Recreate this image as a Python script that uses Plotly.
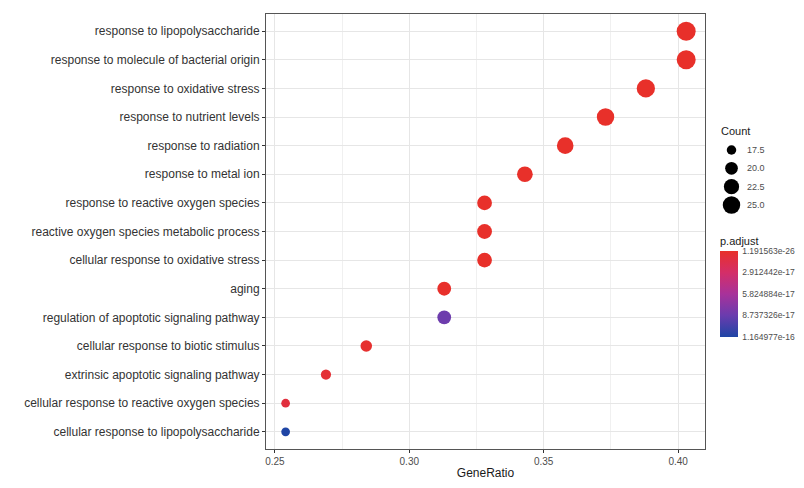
import numpy as np
import plotly.graph_objects as go

terms = [
    "response to lipopolysaccharide",
    "response to molecule of bacterial origin",
    "response to oxidative stress",
    "response to nutrient levels",
    "response to radiation",
    "response to metal ion",
    "response to reactive oxygen species",
    "reactive oxygen species metabolic process",
    "cellular response to oxidative stress",
    "aging",
    "regulation of apoptotic signaling pathway",
    "cellular response to biotic stimulus",
    "extrinsic apoptotic signaling pathway",
    "cellular response to reactive oxygen species",
    "cellular response to lipopolysaccharide",
]
gene_ratio = [0.403, 0.403, 0.388, 0.373, 0.358, 0.343, 0.328, 0.328, 0.328,
              0.313, 0.313, 0.284, 0.269, 0.254, 0.254]
counts = [27, 27, 26, 25, 24, 23, 22, 22, 22, 21, 21, 19, 18, 17, 17]
p_adjust = [1.191563e-26, 3.4e-26, 2.1e-25, 5.6e-24, 8.9e-23, 1.4e-21, 3.2e-20,
            7.5e-20, 2.3e-19, 6.1e-19, 8.6e-17, 2.4e-18, 5.2e-18, 9.6e-18,
            1.164977e-16]

count_breaks = [17.5, 20.0, 22.5, 25.0]
p_ticks = [1.191563e-26, 2.912442e-17, 5.824884e-17, 8.737326e-17, 1.164977e-16]
p_ticktext = ["1.191563e-26", "2.912442e-17", "5.824884e-17", "8.737326e-17",
              "1.164977e-16"]

FONT = "Liberation Sans, Arial, sans-serif"
OFF = 8  # default page body margin
W, H = 804 - 2 * OFF, 488 - 2 * OFF
# layout in reference-pixel coordinates
PL, PR, PT, PB = 266, 705, 14, 449
ML = PL - OFF
MT = PT - OFF
MR = 4
MB = H - (PB - OFF)
PW = W - ML - MR
PH = H - MT - MB


def px_x(p):
    return (p - OFF - ML) / PW


def px_y(p):
    return (H - MB - (p - OFF)) / PH


cmin_c = 17


def size_of(c):
    c = np.asarray(c, dtype=float)
    return np.sqrt(76 + 28.5 * (c - cmin_c))


colorscale = [[0.0, "#1F45A5"], [0.25, "#6A3CAE"], [0.5, "#A8329A"],
              [0.75, "#D42E68"], [1.0, "#E8302A"]]

neg_p = [-v for v in p_adjust]

fig = go.Figure()
fig.add_trace(go.Scatter(
    x=gene_ratio, y=terms, mode="markers",
    marker=dict(size=size_of(counts), color=neg_p, colorscale=colorscale,
                cmin=-max(p_ticks), cmax=-min(p_ticks), line=dict(width=0),
                opacity=1,
                colorbar=dict(
                    x=px_x(720), xanchor="left", xpad=0, ypad=0,
                    y=px_y(294), yanchor="middle",
                    len=86, lenmode="pixels", thickness=18,
                    outlinewidth=0,
                    tickvals=[-v for v in p_ticks], ticktext=p_ticktext,
                    ticks="outside", tickcolor="rgba(0,0,0,0)", ticklen=3,
                    tickfont=dict(family=FONT, size=8.5, color="#4d4d4d"),
                )),
    showlegend=False, hoverinfo="x+y",
    xaxis="x", yaxis="y",
))

# size legend
fig.add_trace(go.Scatter(
    x=[0] * len(count_breaks), y=count_breaks, mode="markers",
    marker=dict(size=size_of(count_breaks), color="#000000", line=dict(width=0),
                opacity=1),
    showlegend=False, hoverinfo="skip", xaxis="x2", yaxis="y2",
))

grid = "#e6e6e6"
fig.update_layout(
    width=W, height=H,
    margin=dict(l=ML, r=MR, t=MT, b=MB, pad=0, autoexpand=False),
    paper_bgcolor="white", plot_bgcolor="white",
    font=dict(family=FONT, size=12, color="#333333"),
    xaxis=dict(
        domain=[0, px_x(PR)], range=[0.2467, 0.4100],
        tickvals=[0.25, 0.30, 0.35, 0.40], tickformat=".2f",
        showgrid=True, gridcolor=grid, gridwidth=1,
        minor=dict(showgrid=True, gridcolor="#f0f0f0", gridwidth=1,
                   tickvals=[0.275, 0.325, 0.375]),
        ticks="outside", ticklen=3, tickcolor="#333333",
        tickfont=dict(family=FONT, size=10, color="#4d4d4d"),
        showline=True, mirror=True, linecolor="#555555", linewidth=1,
        zeroline=False,
        title=dict(text="GeneRatio", font=dict(family=FONT, size=12, color="#1a1a1a"),
                   standoff=3),
    ),
    yaxis=dict(
        type="category", categoryorder="array", categoryarray=terms,
        range=[len(terms) - 0.4, -0.6],
        showgrid=True, gridcolor=grid, gridwidth=1,
        ticks="outside", ticklen=3, tickcolor="#333333",
        tickfont=dict(family=FONT, size=12, color="#333333"),
        showline=True, mirror=True, linecolor="#555555", linewidth=1,
        zeroline=False,
    ),
    xaxis2=dict(domain=[px_x(720), px_x(743)], range=[-1, 1], anchor="y2",
                visible=False, fixedrange=True),
    yaxis2=dict(domain=[px_y(215), px_y(120)], range=[26.36, 13.41], anchor="x2",
                side="right", showgrid=False, zeroline=False, showline=False,
                tickvals=count_breaks, tickformat=".1f", ticks="",
                ticklabelstandoff=3,
                tickfont=dict(family=FONT, size=9, color="#4d4d4d"),
                fixedrange=True),
    annotations=[
        dict(text="Count", x=px_x(719), y=px_y(131), xref="paper",
             yref="paper", xanchor="left", yanchor="middle", showarrow=False,
             font=dict(family=FONT, size=11, color="#1a1a1a")),
        dict(text="p.adjust", x=px_x(718), y=px_y(241), xref="paper",
             yref="paper", xanchor="left", yanchor="middle", showarrow=False,
             font=dict(family=FONT, size=11, color="#1a1a1a")),
    ],
)

fig.write_html("out.html")
